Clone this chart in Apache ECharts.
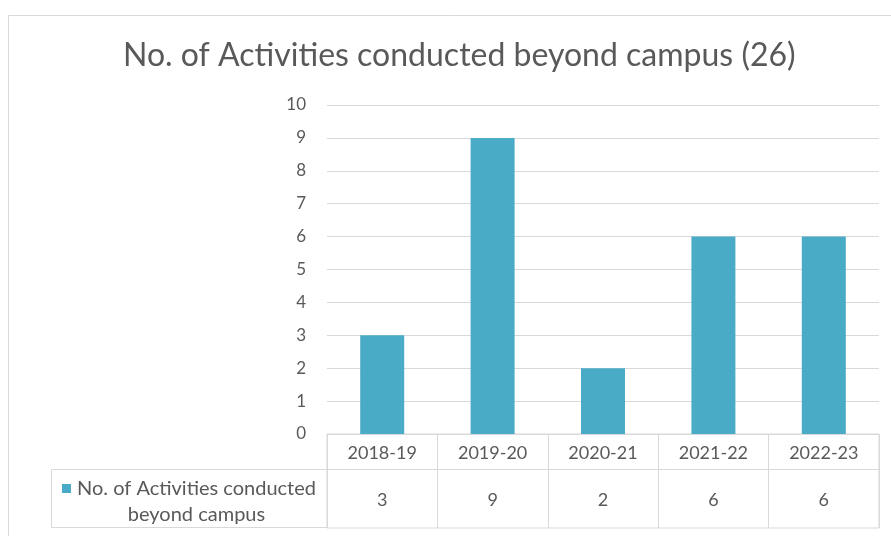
<!DOCTYPE html>
<html><head><meta charset="utf-8">
<script src="https://cdn.jsdelivr.net/npm/echarts@6/dist/echarts.min.js"></script>
<style>html,body{margin:0;padding:0;background:#fff}#c{width:891px;height:536px}</style>
</head><body><div id="c"></div>
<script>
const titleText = "No. of Activities conducted beyond campus (26)";
const seriesName = "No. of Activities conducted beyond campus";
const categories = ["2018-19", "2019-20", "2020-21", "2021-22", "2022-23"];
const values = [3, 9, 2, 6, 6];
const yTicks = {min: 0, max: 10, interval: 1};

const FONT = "Lato";
const GRAY = "#595959";
const LINE = "#d9d9d9";
const chart = echarts.init(document.getElementById('c'), null, {renderer: 'canvas'});
chart.setOption({
  animation: false,
  backgroundColor: '#fff',
  title: {text: titleText, left: 118, top: 35, textStyle: {fontFamily: FONT, fontSize: 32, fontWeight: 'normal', color: GRAY}},
  legend: {
    left: 57, top: 474, orient: 'vertical', itemWidth: 9, itemHeight: 36,
    icon: 'path://M0,0L9,0L9,9L0,9Z M0,36L0.01,36L0,36.01Z',
    formatter: () => '{a|No. of Activities conducted}\n{a|beyond campus}',
    textStyle: {fontFamily: FONT, fontSize: 20, color: GRAY,
      rich: {a: {fontFamily: FONT, fontSize: 20, color: GRAY, width: 241, align: 'center', lineHeight: 26}}}
  },
  grid: [
    {left: 327, right: 12, top: 105, bottom: 102},
    {left: 327, right: 12, top: 434, bottom: 8, show: true, borderColor: LINE, borderWidth: 1}
  ],
  xAxis: [
    {type: 'category', gridIndex: 0, data: categories, axisLine: {show: true, lineStyle: {color: LINE}}, axisTick: {show: false},
     axisLabel: {color: GRAY, fontFamily: FONT, fontSize: 18, margin: 10}},
    {type: 'category', gridIndex: 1, data: values.map(String), position: 'bottom',
     axisLine: {show: false}, axisTick: {show: false},
     splitLine: {show: true, lineStyle: {color: LINE}},
     axisLabel: {inside: true, color: GRAY, fontFamily: FONT, fontSize: 18, margin: 19}}
  ],
  yAxis: [
    {type: 'value', gridIndex: 0, min: yTicks.min, max: yTicks.max, interval: yTicks.interval,
     axisLine: {show: false}, axisTick: {show: false},
     axisLabel: {color: GRAY, fontFamily: FONT, fontSize: 17, margin: 21},
     splitLine: {lineStyle: {color: LINE}}},
    {type: 'value', gridIndex: 1, show: false, splitLine: {show: false}}
  ],
  series: [{name: seriesName, type: 'bar', data: values, barWidth: 44, itemStyle: {color: '#4aabc6'}, xAxisIndex: 0, yAxisIndex: 0}],
  graphic: [
    {type: 'rect', shape: {x: 8.5, y: 15.5, width: 900, height: 540}, style: {fill: null, stroke: LINE, lineWidth: 1}, silent: true},
    {type: 'rect', shape: {x: 51.5, y: 469.5, width: 276, height: 58}, style: {fill: null, stroke: LINE, lineWidth: 1}, silent: true},
    {type: 'line', shape: {x1: 327, y1: 469.5, x2: 879, y2: 469.5}, style: {stroke: LINE, lineWidth: 1}, silent: true}
  ]
});
</script></body></html>
